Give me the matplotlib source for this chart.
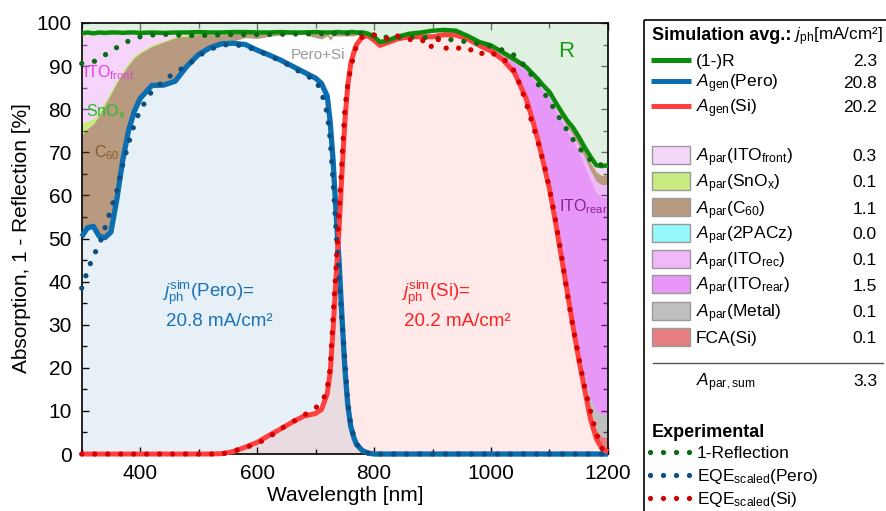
import numpy as np
import matplotlib
matplotlib.use("Agg")
import matplotlib.pyplot as plt
from matplotlib.patches import Rectangle
from matplotlib.colors import to_rgba
from matplotlib.ticker import MultipleLocator

plt.rcParams['font.family'] = ['Liberation Sans', 'DejaVu Sans']
plt.rcParams['mathtext.fontset'] = 'custom'
plt.rcParams['mathtext.rm'] = 'Liberation Sans'
plt.rcParams['mathtext.it'] = 'Liberation Sans:italic'
plt.rcParams['mathtext.bf'] = 'Liberation Sans:bold'

# ---- simulation, common wavelength grid ----
wl = [300, 310, 320, 330, 340, 350, 360, 370, 380, 390, 400,
      420, 440, 460, 480, 500, 520, 540, 560, 580, 600, 620, 640, 660, 680, 700,
      710, 720, 725, 730, 735, 740, 745, 750, 755, 760, 765, 770, 780, 790,
      800, 810, 820, 840, 860, 880, 900, 920, 940, 960, 980, 1000, 1020, 1040,
      1060, 1070, 1080, 1090, 1100, 1110, 1120, 1130, 1140, 1150, 1160, 1170, 1180, 1190, 1200]

a_pero = [50.4, 52.5, 52.8, 50.5, 50.2, 51.5, 59.0, 68.0, 75.0, 79.5, 82.5,
          85.5, 85.6, 86.5, 90.0, 92.7, 94.3, 95.2, 95.3, 95.0, 93.7, 92.6, 91.4, 90.0, 88.6, 87.2,
          86.0, 83.0, 77.0, 68.0, 56.0, 45.0, 32.0, 20.0, 11.5, 6.5, 4.0, 2.2, 0.8, 0.2,
          0, 0, 0, 0, 0, 0, 0, 0, 0, 0, 0, 0, 0, 0,
          0, 0, 0, 0, 0, 0, 0, 0, 0, 0, 0, 0, 0, 0, 0]

a_si = [0, 0, 0, 0, 0, 0, 0, 0, 0, 0, 0,
        0, 0, 0, 0, 0, 0, 0.1, 0.6, 1.6, 2.7, 4.3, 5.8, 7.4, 8.8, 9.4,
        10.3, 14.0, 19.0, 29.0, 41.0, 52.0, 65.0, 77.0, 85.5, 90.5, 93.0, 95.0, 96.8, 97.0,
        96.0, 94.8, 95.3, 96.3, 96.8, 96.8, 96.8, 97.3, 97.2, 96.3, 94.8, 93.5, 91.5, 88.5,
        82.5, 78.0, 73.0, 67.3, 61.5, 54.0, 46.0, 38.0, 29.8, 22.0, 15.0, 8.2, 3.6, 1.2, 0.5]

one_minus_r = [97.6, 97.8, 97.6, 97.8, 97.7, 97.8, 97.8, 97.7, 97.8, 97.8, 97.7,
               97.8, 97.7, 97.8, 97.8, 97.9, 97.8, 97.8, 97.9, 97.9, 97.8, 97.8, 97.9, 97.8, 97.8, 97.9,
               97.8, 97.8, 97.8, 97.8, 97.9, 97.9, 97.8, 97.8, 97.8, 97.9, 97.9, 97.8, 97.8, 97.5,
               96.8, 95.6, 95.8, 96.8, 97.5, 97.8, 98.2, 98.4, 98.2, 97.0, 95.6, 94.8, 93.2, 91.6,
               89.8, 88.4, 87.0, 85.4, 84.0, 81.7, 79.5, 77.4, 75.8, 73.6, 71.2, 69.0, 67.0, 66.8, 67.0]

# parasitic absorption per layer
fca = [0, 0, 0, 0, 0, 0, 0, 0, 0, 0, 0,
       0, 0, 0, 0, 0, 0, 0, 0, 0, 0, 0, 0, 0, 0, 0,
       0, 0, 0, 0, 0, 0, 0, 0, 0, 0, 0, 0, 0, 0,
       0, 0, 0, 0, 0, 0, 0, 0, 0, 0, 0, 0, 0, 0,
       0, 0, 0, 0, 0, 0, 0, 0.1, 0.2, 0.4, 0.7, 1.2, 2.0, 2.8, 3.4]
metal = [0, 0, 0, 0, 0, 0, 0, 0, 0, 0, 0,
         0, 0, 0, 0, 0, 0, 0, 0, 0, 0, 0, 0, 0, 0, 0,
         0, 0, 0, 0, 0, 0, 0, 0, 0, 0, 0, 0, 0, 0,
         0, 0, 0, 0, 0, 0, 0, 0, 0, 0, 0, 0, 0, 0,
         0.1, 0.1, 0.1, 0.1, 0.2, 0.4, 0.6, 0.9, 1.3, 1.8, 2.5, 3.3, 4.3, 5.0, 5.8]
ito_rear = [0, 0, 0, 0, 0, 0, 0, 0, 0, 0, 0,
            0, 0, 0, 0, 0, 0, 0, 0, 0, 0, 0, 0, 0, 0, 0,
            0, 0, 0, 0, 0, 0, 0, 0, 0, 0, 0, 0, 0, 0,
            0.1, 0.1, 0.1, 0.1, 0.1, 0.1, 0.1, 0.1, 0.1, 0.1, 0.2, 0.5, 0.9, 2.2,
            6.3, 9.3, 12.8, 16.8, 20.8, 25.6, 30.9, 36.0, 41.5, 45.9, 48.8, 50.9, 50.8, 50.6, 49.9]
ito_rec = [0, 0, 0, 0, 0, 0, 0, 0, 0, 0, 0,
           0, 0, 0, 0, 0, 0, 0, 0, 0, 0, 0, 0, 0, 0, 0,
           0, 0, 0, 0, 0, 0, 0, 0, 0, 0, 0, 0, 0, 0,
           0.1, 0.1, 0.1, 0.1, 0.1, 0.1, 0.1, 0.1, 0.1, 0.1, 0.1, 0.1, 0.1, 0.1,
           0.3, 0.4, 0.4, 0.5, 0.6, 0.7, 0.8, 1.0, 1.2, 1.5, 1.8, 2.2, 2.6, 2.8, 3.0]
pacz = [0] * len(wl)
c60 = [23.7, 23.0, 23.8, 28.1, 31.0, 32.1, 27.2, 20.3, 15.3, 12.5, 10.5,
       9.1, 10.0, 10.1, 7.0, 4.7, 3.0, 2.0, 1.7, 1.0, 1.1, 0.6, 0.6, 0.6, 0.6, 1.0,
       0.8, 0.8, 0.8, 0.8, 0.8, 0.8, 0.8, 0.8, 0.8, 0.8, 0.8, 0.8, 0.8, 0.8,
       0.4, 0.4, 0.4, 0.4, 0.4, 0.4, 0.4, 0.4, 0.4, 0.4, 0.4, 0.4, 0.4, 0.4,
       0.5, 0.5, 0.5, 0.5, 0.6, 0.7, 0.8, 1.0, 1.2, 1.4, 1.6, 1.9, 2.1, 2.2, 2.2]
snox = [2.5, 1.8, 1.2, 0.9, 0.8, 0.7, 0.6, 0.6, 0.5, 0.5, 0.4,
        0.4, 0.3, 0.3, 0.3, 0.2, 0.2, 0.2, 0.1, 0.1, 0.1, 0.1, 0.1, 0.1, 0.1, 0.1,
        0.1, 0.1, 0.1, 0.1, 0.1, 0.1, 0.1, 0.1, 0.1, 0.1, 0.1, 0.1, 0.1, 0.1,
        0.05, 0.05, 0.05, 0.05, 0.05, 0.05, 0.05, 0.05, 0.05, 0.05, 0.05, 0.05, 0.05, 0.05,
        0.1, 0.1, 0.1, 0.1, 0.1, 0.1, 0.1, 0.1, 0.1, 0.1, 0.1, 0.2, 0.2, 0.2, 0.2]
ito_front = [21.0, 20.5, 19.8, 18.3, 15.7, 13.5, 11.0, 8.8, 7.0, 5.3, 4.3,
             2.8, 1.8, 0.9, 0.5, 0.3, 0.3, 0.3, 0.2, 0.2, 0.2, 0.2, 0.2, 0.2, 0.2, 0.2,
             0.2, 0.2, 0.2, 0.2, 0.2, 0.2, 0.2, 0.2, 0.2, 0.2, 0.2, 0.2, 0.2, 0.2,
             0.15, 0.15, 0.15, 0.15, 0.15, 0.15, 0.15, 0.15, 0.15, 0.15, 0.15, 0.15, 0.15, 0.15,
             0.1, 0.1, 0.2, 0.2, 0.2, 0.2, 0.3, 0.3, 0.5, 0.5, 0.7, 1.1, 1.4, 2.0, 2.0]

# ---- experimental ----
wl_exp_r = [300, 310, 320, 330, 340, 350, 360, 370, 380, 390, 400, 420, 440, 460, 480, 500,
            550, 600, 650, 700, 750, 780, 800, 820, 840, 860, 880, 900, 920, 940, 960, 980,
            1000, 1020, 1040, 1060, 1080, 1100, 1120, 1140, 1160, 1180, 1200]
exp_r = [90.6, 90.7, 91.0, 91.7, 92.6, 93.5, 94.3, 95.1, 95.8, 96.4, 96.8, 97.2, 97.4, 97.2, 97.1, 97.1,
         97.3, 97.3, 97.4, 97.5, 97.6, 97.6, 97.2, 96.7, 96.7, 96.7, 96.7, 96.5, 96.3, 96.0, 95.6, 95.2,
         94.6, 93.7, 92.5, 89.7, 85.9, 81.9, 77.3, 73.0, 69.4, 67.1, 67.1]

wl_eqe_pero = [300, 310, 320, 330, 340, 350, 360, 370, 380, 390, 400, 420, 440, 460, 480, 500,
               520, 540, 560, 580, 600, 620, 640, 660, 680, 700, 710, 720, 725, 730, 735, 740,
               745, 750, 755, 760, 765, 770, 780, 790, 800, 900, 1000, 1100, 1200]
eqe_pero = [38.5, 42.5, 46.0, 48.5, 52.5, 56.8, 61.0, 67.0, 72.0, 76.5, 79.8, 84.2, 86.5, 88.6, 90.0, 92.4,
            93.9, 94.9, 95.0, 94.6, 93.6, 92.5, 91.2, 89.8, 88.0, 86.8, 84.0, 79.0, 73.0, 63.0, 52.0, 41.0,
            31.0, 22.0, 12.0, 7.0, 4.2, 2.4, 0.8, 0.2, 0, 0, 0, 0, 0]

wl_eqe_si = [300, 400, 500, 540, 560, 580, 600, 620, 640, 660, 680, 700, 710, 715, 720, 725,
             730, 735, 740, 745, 750, 755, 760, 765, 770, 780, 790, 800, 810, 820, 830, 840,
             850, 860, 870, 880, 890, 900, 910, 920, 930, 940, 950, 960, 970, 980, 990, 1000,
             1010, 1020, 1030, 1040, 1050, 1060, 1070, 1080, 1090, 1100, 1110, 1120, 1130, 1140,
             1150, 1160, 1170, 1180, 1190, 1200]
eqe_si = [0, 0, 0, 0, 0.7, 1.5, 2.4, 3.9, 5.8, 7.4, 9.0, 10.7, 12.0, 13.3, 15.5, 19.9,
          32.0, 43.5, 56.0, 68.0, 80.0, 85.8, 89.3, 92.5, 94.8, 96.8, 97.2, 97.2, 97.0, 96.5, 95.9, 97.0,
          96.6, 96.2, 96.0, 95.7, 96.3, 94.1, 96.2, 94.1, 94.3, 93.9, 94.5, 94.0, 93.6, 92.6, 93.4, 93.0,
          92.6, 91.8, 90.6, 88.8, 85.5, 81.5, 77.0, 72.5, 67.6, 61.5, 54.5, 46.5, 37.5, 29.5,
          22.5, 15.6, 10.0, 4.8, 1.3, 0.3]

# legend numbers (mA/cm2)
jph_sim = ["2.3", "20.8", "20.2"]
jph_par = ["0.3", "0.1", "1.1", "0.0", "0.1", "1.5", "0.1", "0.1"]
jph_par_sum = "3.3"

# colours
c_green, c_blue, c_red = '#0a8c0a', '#0b6eb0', '#ff4040'
c_green_dot, c_blue_dot, c_red_dot = '#0b6b14', '#0d4f82', '#d40000'
par_layers = [ito_front, snox, c60, pacz, ito_rec, ito_rear, metal, fca]
par_colors = ['#edadf5', '#91d905', '#733705', '#2df5f5', '#e173f5', '#d131f1', '#818181', '#cd0101']
par_names = [r"$A_{\rm par}$(ITO$_{\rm front}$)", r"$A_{\rm par}$(SnO$_{\rm x}$)",
             r"$A_{\rm par}$(C$_{60}$)", r"$A_{\rm par}$(2PACz)", r"$A_{\rm par}$(ITO$_{\rm rec}$)",
             r"$A_{\rm par}$(ITO$_{\rm rear}$)", r"$A_{\rm par}$(Metal)", "FCA(Si)"]
dot_style = (0, (0.01, 2.45))

fig = plt.figure(figsize=(8.86, 5.11), dpi=100)
ax = fig.add_axes([0.0922, 0.1115, 0.594, 0.8435])

x = np.array(wl)
pero = np.array(a_pero)
si = np.array(a_si)

# generation in the absorbers
ax.fill_between(x, 0, pero, color=c_blue, alpha=0.1, lw=0)
ax.fill_between(x, 0, si, color='#ff3030', alpha=0.1, lw=0)

# parasitic layers stacked on Pero+Si, rear layers first
base = pero + si
for layer, col in zip(par_layers[::-1], par_colors[::-1]):
    top = base + np.array(layer)
    ax.fill_between(x, base, top, color=col, alpha=0.5, lw=0)
    base = top
ax.fill_between(x, one_minus_r, 100, color='#c5e5c5', alpha=0.5, lw=0)

ax.plot(x, pero, color=c_blue, lw=3.8, zorder=3, clip_on=False, solid_capstyle='butt')
ax.plot(x, si, color=c_red, lw=3.6, zorder=3, clip_on=False, solid_capstyle='butt')
ax.plot(x, one_minus_r, color=c_green, lw=3.2, zorder=3, solid_capstyle='butt')

for xs, ys, col in [(wl_exp_r, exp_r, c_green_dot), (wl_eqe_pero, eqe_pero, c_blue_dot),
                    (wl_eqe_si, eqe_si, c_red_dot)]:
    ax.plot(xs, ys, color=col, lw=3.8, linestyle=dot_style, dash_capstyle='round',
            zorder=4, clip_on=False)

# labels inside the plot
ax.text(302, 88.5, r"ITO$_{\rm front}$", color='#e040e8', fontsize=11.5, va='center')
ax.text(307, 79.5, r"SnO$_{\rm x}$", color='#20c020', fontsize=11.5, va='center')
ax.text(321, 70, r"C$_{60}$", color='#8b5a2b', fontsize=11.5, va='center')
ax.text(657, 92.5, "Pero+Si", color='#999999', fontsize=11, va='center')
ax.text(1114, 93.5, "R", color='#1a9a1a', fontsize=16, va='center')
ax.text(1116, 57.5, r"ITO$_{\rm rear}$", color='#8a1f9a', fontsize=11.5, va='center')
ax.text(438, 37.4, r"$j_{\rm ph}^{\rm sim}$(Pero)=", color='#1a72b8', fontsize=13.5, va='center')
ax.text(444, 30.7, "20.8 mA/cm²", color='#1a72b8', fontsize=13.5, va='center')
ax.text(846, 37.4, r"$j_{\rm ph}^{\rm sim}$(Si)=", color='#ff2020', fontsize=13.5, va='center')
ax.text(852, 30.7, "20.2 mA/cm²", color='#ff2020', fontsize=13.5, va='center')

ax.set_xlim(300, 1200)
ax.set_ylim(0, 100)
ax.xaxis.set_major_locator(MultipleLocator(200))
ax.xaxis.set_minor_locator(MultipleLocator(100))
ax.yaxis.set_major_locator(MultipleLocator(10))
ax.yaxis.set_minor_locator(MultipleLocator(5))
ax.tick_params(which='both', direction='in', top=True, right=True, width=1, labelsize=15, pad=7)
ax.tick_params(which='major', length=5)
ax.tick_params(which='minor', length=3.5)
ax.set_axisbelow(True)
for s in ax.spines.values():
    s.set_linewidth(1.2)
ax.set_xlabel("Wavelength [nm]", fontsize=15, labelpad=2)
ax.set_ylabel("Absorption, 1 - Reflection [%]", fontsize=15, labelpad=4)

# ---- legend panel, drawn in pixel coordinates ----
lax = fig.add_axes([0, 0, 1, 1])
lax.set_xlim(0, 886)
lax.set_ylim(511, 0)
lax.axis('off')
lax.add_patch(Rectangle((644, 20.5), 300, 520, fill=False, ec='black', lw=1.2, clip_on=False))
fs = 12.5
tx, vx = 696, 877
lax.text(652, 40, "Simulation avg.:", fontsize=13, fontweight='bold', va='baseline')
lax.text(794, 40, r"$j_{\rm ph}$[mA/cm²]", fontsize=12.3, va='baseline')

sim_rows = [("(1-)R", c_green, 60), (r"$A_{\rm gen}$(Pero)", c_blue, 81.5), (r"$A_{\rm gen}$(Si)", c_red, 106.5)]
for (name, col, y), val in zip(sim_rows, jph_sim):
    lax.plot([651, 691], [y, y], color=col, lw=3.6, solid_capstyle='butt')
    lax.text(tx, y + 6, name, fontsize=fs, va='baseline')
    lax.text(vx, y + 6, val, fontsize=fs, va='baseline', ha='right')

row_y = [155, 181, 207.5, 233, 259, 284.5, 311, 337]
for name, col, val, y in zip(par_names, par_colors, jph_par, row_y):
    lax.add_patch(Rectangle((652, y - 9), 38, 18, fc=to_rgba(col, 0.5), ec='#999999', lw=1))
    lax.text(tx, y + 6.3, name, fontsize=fs, va='baseline')
    lax.text(vx, y + 6.3, val, fontsize=fs, va='baseline', ha='right')

lax.plot([653, 883], [363.5, 363.5], color='#555555', lw=1)
lax.text(tx, 386.5, r"$A_{\rm par,sum}$", fontsize=fs, va='baseline')
lax.text(vx, 386.5, jph_par_sum, fontsize=fs, va='baseline', ha='right')

lax.text(652, 437, "Experimental", fontsize=13, fontweight='bold', va='baseline')
exp_rows = [("1-Reflection", c_green_dot, 451.7), (r"EQE$_{\rm scaled}$(Pero)", c_blue_dot, 475),
            (r"EQE$_{\rm scaled}$(Si)", c_red_dot, 498.3)]
for name, col, y in exp_rows:
    lax.plot([650, 689], [y, y], color=col, lw=3.8, linestyle=dot_style, dash_capstyle='round')
    lax.text(697, y + 6, name, fontsize=fs, va='baseline')

fig.savefig("out.png", dpi=100)
